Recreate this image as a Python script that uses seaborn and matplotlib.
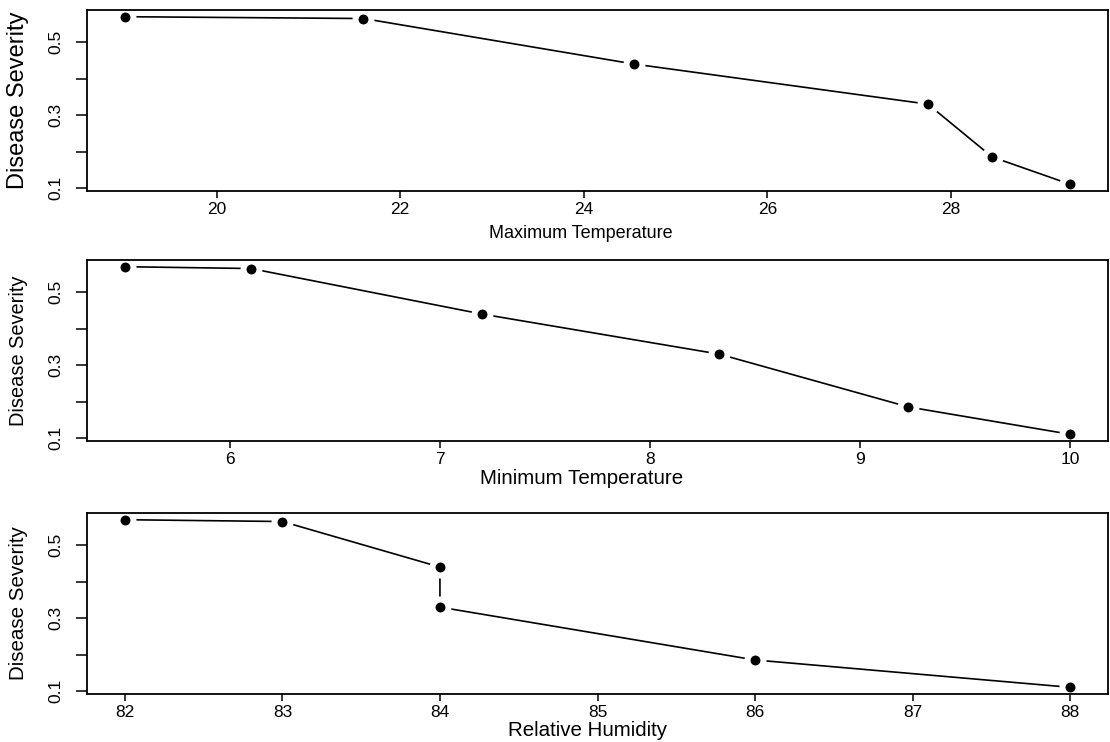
import matplotlib
matplotlib.use("Agg")
import matplotlib.pyplot as plt
import seaborn as sns
import pandas as pd

# ---- data ----
severity = [0.57, 0.565, 0.44, 0.33, 0.185, 0.11]
max_temp = [19.0, 21.6, 24.55, 27.75, 28.45, 29.3]
min_temp = [5.5, 6.1, 7.2, 8.33, 9.23, 10.0]
rel_hum = [82, 83, 84, 84, 86, 88]

x_labels = ["Maximum Temperature", "Minimum Temperature", "Relative Humidity"]
x_ticks = [[20, 22, 24, 26, 28], [6, 7, 8, 9, 10], [82, 83, 84, 85, 86, 87, 88]]
y_ticks = [0.1, 0.2, 0.3, 0.4, 0.5]
y_ticklabels = ["0.1", "", "0.3", "", "0.5"]
y_label = "Disease Severity"

sns.set_style("white")
plt.rcParams["font.family"] = ["Liberation Sans", "DejaVu Sans"]

fig = plt.figure(figsize=(11.1, 7.42), dpi=100)

W, H = 1110, 742
left, right = 87, 1108
panels = [(10, 191), (260, 441), (513, 694)]
xs = [max_temp, min_temp, rel_hum]

# per-panel text sizes (pt) and label placement
ylabel_size = [17.0, 14.4, 14.8]
xlabel_size = [13.0, 14.8, 14.8]
ylabel_x = [18, 19, 19]
xlabel_off = [42, 37, 37]
xlabel_cx = [581, 582, 588]


def expand(v):
    lo, hi = min(v), max(v)
    pad = 0.04 * (hi - lo)
    return lo - pad, hi + pad


for i, (top, bot) in enumerate(panels):
    ax = fig.add_axes([left / W, (H - bot) / H, (right - left) / W, (bot - top) / H])
    df = pd.DataFrame({"x": xs[i], "y": severity})
    sns.lineplot(data=df, x="x", y="y", ax=ax, sort=False, estimator=None,
                 color="black", linewidth=1.2, marker="o", markersize=11.5,
                 markerfacecolor="black", markeredgecolor="white",
                 markeredgewidth=4.3)
    ax.set_xlim(*expand(xs[i]))
    ax.set_ylim(*expand(severity))
    ax.set_xticks(x_ticks[i])
    ax.set_xticklabels([str(t) for t in x_ticks[i]])
    ax.set_yticks(y_ticks)
    ax.set_yticklabels(y_ticklabels)
    for s in ax.spines.values():
        s.set_linewidth(1.3)
        s.set_color("black")
    ax.tick_params(axis="x", direction="out", length=5, width=1.1, pad=3,
                   labelsize=12.5, colors="black", bottom=True)
    ax.tick_params(axis="y", direction="out", length=8, width=1.1, pad=9,
                   labelsize=12.5, colors="black", left=True, labelrotation=90)
    for lab in ax.get_yticklabels():
        lab.set_va("center")
    ax.set_xlabel(x_labels[i], fontsize=xlabel_size[i], color="black")
    ax.set_ylabel(y_label, fontsize=ylabel_size[i], color="black")
    ax.xaxis.set_label_coords((xlabel_cx[i] - left) / (right - left),
                              -xlabel_off[i] / (bot - top))
    ax.xaxis.label.set_va("center")
    ax.yaxis.set_label_coords((ylabel_x[i] - left) / (right - left), 0.5)
    ax.yaxis.label.set_va("center")

fig.savefig("out.png", dpi=100)
